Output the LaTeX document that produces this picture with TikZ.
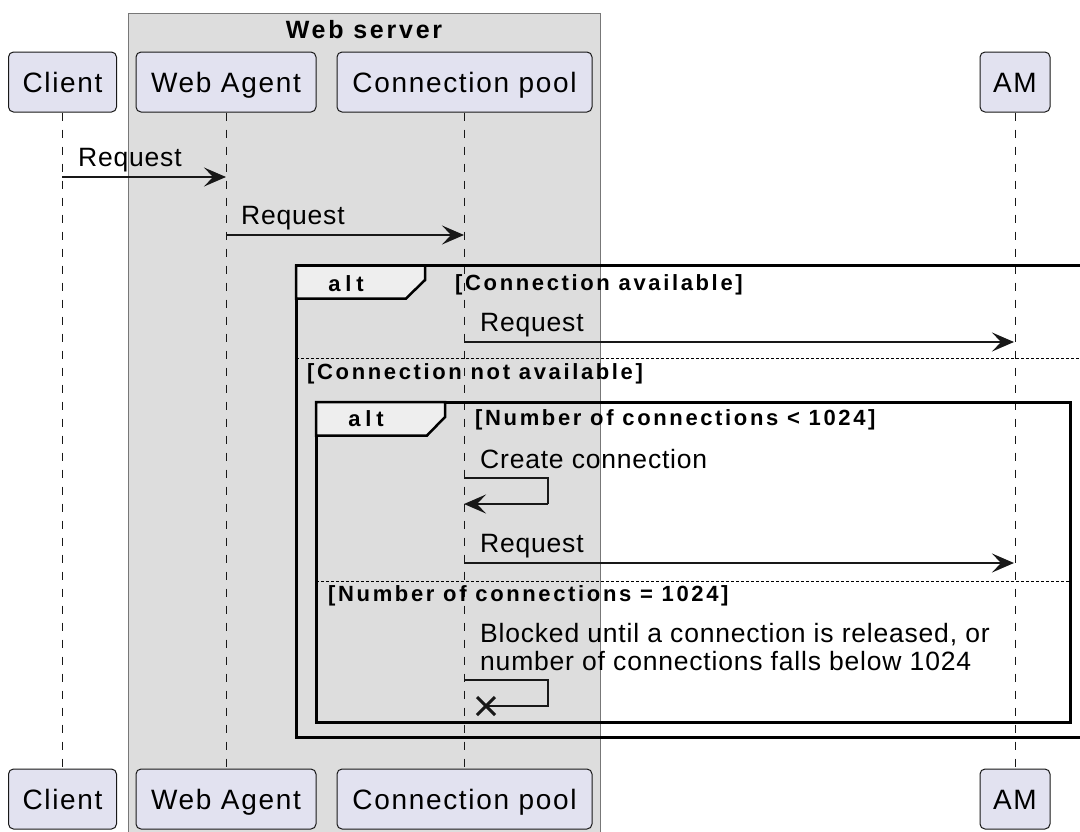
\documentclass[tikz,border=0pt]{standalone}
\usepackage{fontspec}
\setmainfont{Liberation Sans}
\usetikzlibrary{arrows.meta,calc}
\definecolor{partfill}{HTML}{E2E2F0}
\definecolor{ink}{HTML}{181818}
\definecolor{boxfill}{HTML}{DDDDDD}
\definecolor{boxline}{HTML}{777777}
\definecolor{tabfill}{HTML}{EEEEEE}
\newcommand{\pfont}{\fontsize{28}{32}\selectfont\addfontfeature{LetterSpace=6}}
\newcommand{\mfont}{\fontsize{26.5}{29}\selectfont\addfontfeature{LetterSpace=3}}
\newcommand{\gfont}{\fontsize{22}{24}\selectfont\bfseries\addfontfeature{LetterSpace=12}}
\newcommand{\afont}{\fontsize{22}{24}\selectfont\bfseries\addfontfeature{LetterSpace=22}}
\newcommand{\tfont}{\fontsize{25}{28}\selectfont\bfseries\addfontfeature{LetterSpace=11}}
\begin{document}
\begin{tikzpicture}[x=1pt,y=-1pt,
  part/.style={draw=ink, fill=partfill, rounded corners=5pt, line width=1pt,
    inner sep=0pt, text height=20pt, text depth=0pt, font=\pfont, minimum height=60pt},
  life/.style={draw=ink, line width=0.9pt, dash pattern=on 8pt off 9pt},
  msg/.style={draw=ink, line width=1.5pt, -{Stealth[length=22pt,width=19pt,inset=9pt]}},
  selfmsg/.style={draw=ink, line width=1.5pt},
  mlabel/.style={anchor=base west, inner sep=0pt, font=\mfont, text=black},
  glabel/.style={anchor=base west, inner sep=0pt, font=\gfont, text=black},
  altlabel/.style={anchor=base, inner sep=0pt, font=\afont, text=black},
  frame/.style={draw=black, line width=3pt},
  tab/.style={draw=black, line width=2.5pt, fill=tabfill, line join=miter},
  sep/.style={draw=black, line width=1pt, dash pattern=on 2.5pt off 2.5pt},
  cross/.style={draw=ink, line width=3pt}]
\useasboundingbox (0,0) rectangle (1080,831);
\clip (0,0) rectangle (1080,831);
\fill[white] (0,0) rectangle (1080,831);

% Web server box
\draw[draw=boxline, fill=boxfill, line width=1pt] (128,13) rectangle (600,845);
\node[anchor=base, inner sep=0pt, font=\tfont] (wstitle) at (364,38) {Web server};

% participants top
\node[part, minimum width=108pt] (clientT) at (62.5,82) {Client};
\node[part, minimum width=180pt] (agentT) at (226,82) {Web Agent};
\node[part, minimum width=255pt] (poolT) at (464.5,82) {Connection pool};
\node[part, minimum width=70pt] (amT) at (1015,82) {AM};
% participants bottom
\node[part, minimum width=108pt] (clientB) at (62.5,799) {Client};
\node[part, minimum width=180pt] (agentB) at (226,799) {Web Agent};
\node[part, minimum width=255pt] (poolB) at (464.5,799) {Connection pool};
\node[part, minimum width=70pt] (amB) at (1015,799) {AM};

% lifelines
\draw[life] (clientT.south) -- (clientB.north);
\draw[life] (agentT.south) -- (agentB.north);
\draw[life] (poolT.south) -- (poolB.north);
\draw[life] (amT.south) -- (amB.north);

% message 1
\coordinate (m1a) at (62,177);
\coordinate (m1b) at (226,177);
\draw[msg] (m1a) -- (m1b);
\node[mlabel] (m1l) at (78,166) {Request};

% message 2
\coordinate (m2a) at (226,235);
\coordinate (m2b) at (464,235);
\draw[msg] (m2a) -- (m2b);
\node[mlabel] (m2l) at (241,224) {Request};

% outer alt
\draw[frame] (296,265.5) rectangle (1095,737);
\draw[tab] (296,265.5) -- (425,265.5) -- (425,280) -- (406,298.5) -- (296,298.5) -- cycle;
\node[altlabel] (alt1) at (346,291) {alt};
\node[glabel] (g1) at (455,290) {[Connection available]};

% message 3
\coordinate (m3a) at (464,342);
\coordinate (m3b) at (1014,342);
\draw[msg] (m3a) -- (m3b);
\node[mlabel] (m3l) at (480,331) {Request};

% separator 1
\coordinate (s1a) at (296,358);
\coordinate (s1b) at (1090,358);
\draw[sep] (s1a) -- (s1b);
\node[glabel] (g2) at (307,379) {[Connection not available]};

% inner alt
\draw[frame] (316,402) rectangle (1070,722);
\draw[tab] (316,402) -- (445,402) -- (445,417) -- (427,435.5) -- (316,435.5) -- cycle;
\node[altlabel] (alt2) at (366,426) {alt};
\node[glabel] (g3) at (475,425) {[Number of connections < 1024]};

% self message create connection
\node[mlabel] (m4l) at (480,468) {Create connection};
\coordinate (m4a) at (464,478);
\coordinate (m4b) at (464,504);
\draw[selfmsg] (m4a) -- (548,478) -- (548,504);
\draw[msg] (548,504) -- (m4b);

% message 5
\coordinate (m5a) at (464,563);
\coordinate (m5b) at (1014,563);
\draw[msg] (m5a) -- (m5b);
\node[mlabel] (m5l) at (480,552) {Request};

% separator 2
\coordinate (s2a) at (316,581);
\coordinate (s2b) at (1070,581);
\draw[sep] (s2a) -- (s2b);
\node[glabel] (g4) at (328,601) {[Number of connections = 1024]};

% blocked self message
\node[mlabel] (m6l1) at (480,642) {Blocked until a connection is released, or};
\node[mlabel] (m6l2) at (480,670) {number of connections falls below 1024};
\coordinate (m6a) at (464,680);
\coordinate (m6x) at (486,706);
\draw[selfmsg] (m6a) -- (548,680) -- (548,706) -- (m6x);
\draw[cross] ($(m6x)+(-9,-9)$) -- ($(m6x)+(9,9)$);
\draw[cross] ($(m6x)+(-9,9)$) -- ($(m6x)+(9,-9)$);
\end{tikzpicture}
\end{document}
